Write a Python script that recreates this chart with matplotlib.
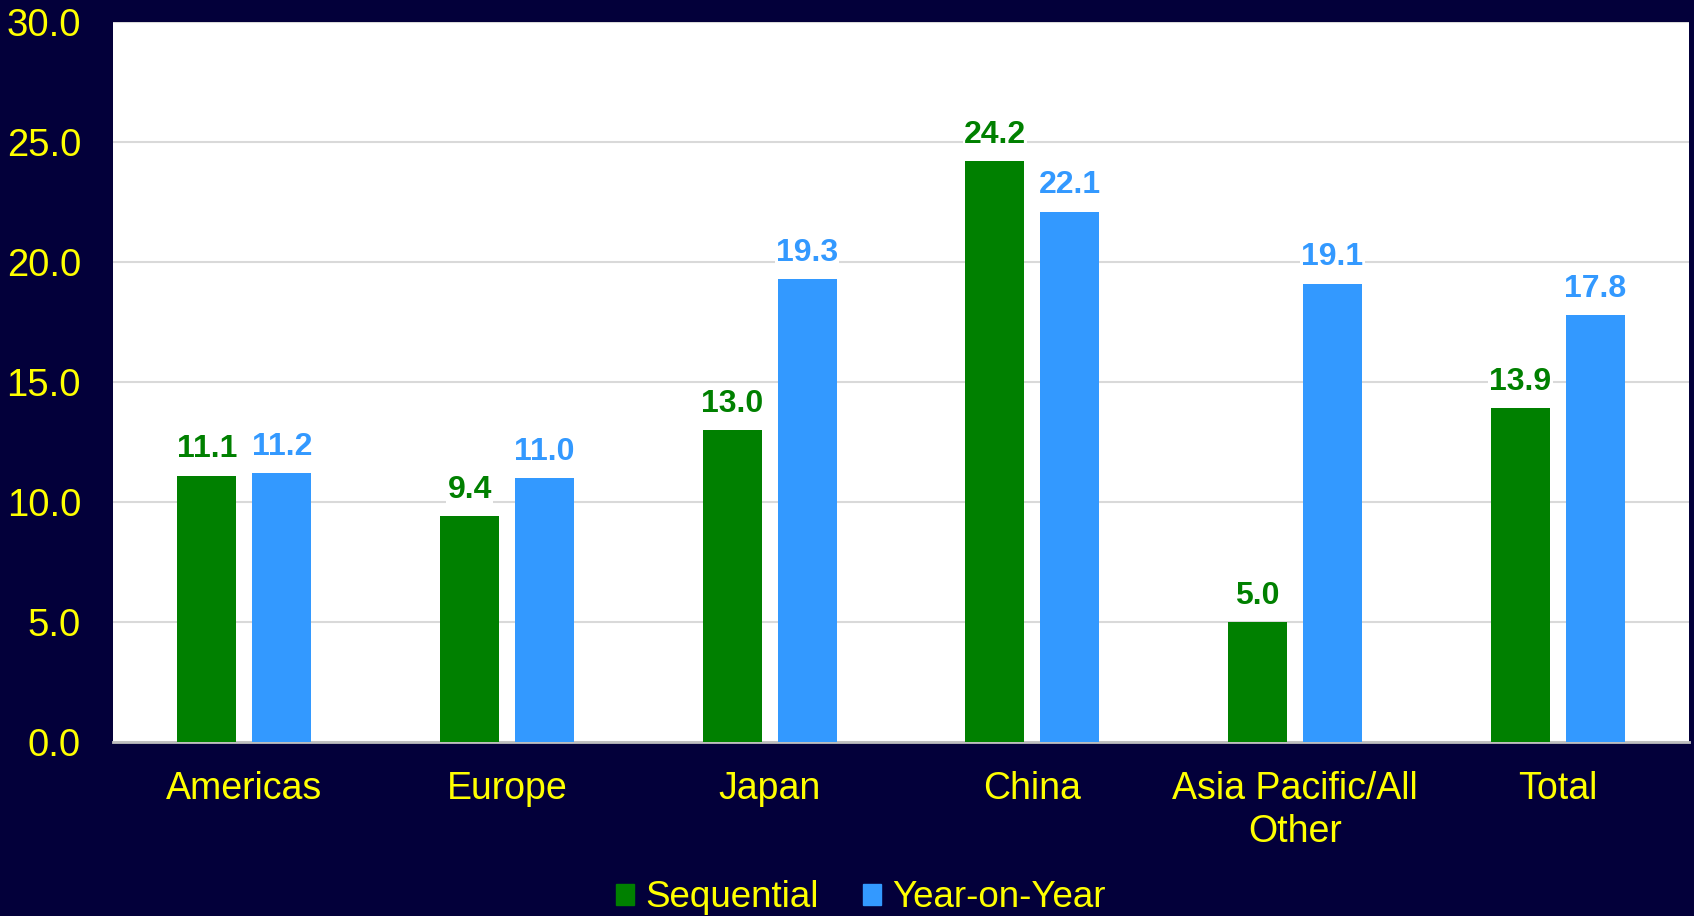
import numpy as np
import matplotlib.pyplot as plt
from matplotlib.patches import Patch

plt.rcParams['font.family'] = ['Liberation Sans', 'DejaVu Sans']

regions = ['Americas', 'Europe', 'Japan', 'China', 'Asia Pacific/All\nOther', 'Total']
sequential = [11.1, 9.4, 13.0, 24.2, 5.0, 13.9]
year_on_year = [11.2, 11.0, 19.3, 22.1, 19.1, 17.8]

BG = '#03003a'
YELLOW = '#ffff00'
GREEN = '#008000'
BLUE = '#3399ff'

fig = plt.figure(figsize=(16.94, 9.16), dpi=100, facecolor=BG)
ax = fig.add_axes([113/1694, 1 - 742/916, 1576/1694, 720/916])
ax.set_facecolor('white')

x = np.arange(len(regions))
w = 0.225
off = 0.1425
b1 = ax.bar(x - off, sequential, w, color=GREEN, zorder=3)
b2 = ax.bar(x + off, year_on_year, w, color=BLUE, zorder=3)

for bars, vals, col in [(b1, sequential, GREEN), (b2, year_on_year, BLUE)]:
    for r, v in zip(bars, vals):
        ax.annotate('%.1f' % v, (r.get_x() + r.get_width()/2, v),
                    xytext=(0, 8), textcoords='offset points',
                    ha='center', va='bottom', fontsize=23, fontweight='bold',
                    color=col, zorder=4,
                    bbox=dict(facecolor='white', edgecolor='none', pad=1))

ax.set_ylim(0, 30)
ax.set_xlim(-0.5, 5.5)
ax.set_yticks(np.arange(0, 31, 5))
ax.set_yticklabels(['%.1f' % t for t in np.arange(0, 31, 5)])
ax.set_xticks(x)
ax.set_xticklabels(regions, linespacing=1.25)
ax.yaxis.grid(True, color='#d9d9d9', linewidth=1.5, zorder=0)
ax.tick_params(axis='y', length=0, pad=23, labelsize=27.5, labelcolor=YELLOW)
ax.tick_params(axis='x', length=0, pad=21, labelsize=27, labelcolor=YELLOW)
for s in ['top', 'right', 'left']:
    ax.spines[s].set_visible(False)
ax.spines['bottom'].set_color('#bfbfbf')
ax.spines['bottom'].set_linewidth(2)

handles = [Patch(color=GREEN, label='Sequential'), Patch(color=BLUE, label='Year-on-Year')]
fig.legend(handles=handles, loc='center', bbox_to_anchor=(0.508, 0.02), ncol=2,
           frameon=False, fontsize=26.5, labelcolor=YELLOW, handlelength=0.5,
           handleheight=0.5, handletextpad=0.3, columnspacing=1.2)

fig.savefig('out.png', dpi=100, facecolor=BG)
